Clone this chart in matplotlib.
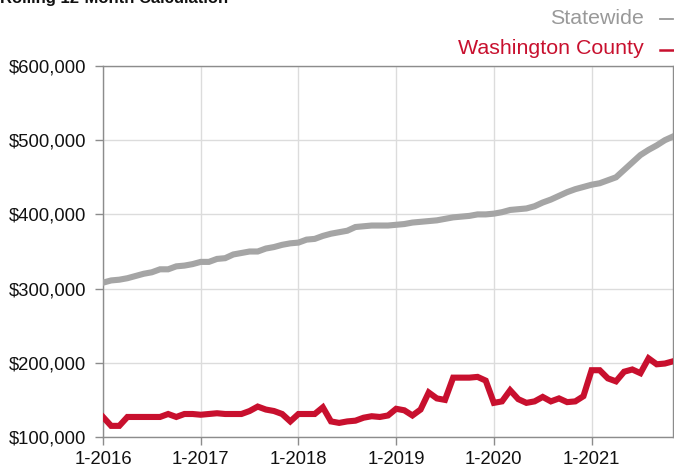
import numpy as np
import matplotlib
matplotlib.use('Agg')
import matplotlib.pyplot as plt
from matplotlib.lines import Line2D

plt.rcParams['font.family'] = ['Liberation Sans', 'DejaVu Sans']

# monthly values, 1-2016 .. 11-2021 (thousands of dollars)
statewide = [308, 311, 312, 314, 317, 320, 322, 326, 326, 330, 331, 333,
             336, 336, 340, 341, 346, 348, 350, 350, 354, 356, 359, 361,
             362, 366, 367, 371, 374, 376, 378, 383, 384, 385, 385, 385,
             386, 387, 389, 390, 391, 392, 394, 396, 397, 398, 400, 400,
             401, 403, 406, 407, 408, 411, 416, 420, 425, 430, 434, 437,
             440, 442, 446, 450, 460, 470, 480, 487, 493, 500, 505]
washington = [127, 115, 115, 127, 127, 127, 127, 127, 131, 127, 131, 131,
              130, 131, 132, 131, 131, 131, 135, 141, 137, 135, 131, 121,
              131, 131, 131, 140, 121, 119, 121, 122, 126, 128, 127, 129,
              138, 136, 129, 137, 160, 152, 150, 180, 180, 180, 181, 176,
              146, 148, 163, 151, 146, 148, 154, 148, 152, 147, 148, 155,
              190, 190, 179, 175, 188, 191, 186, 206, 198, 199, 202]
xtick_labels = ['1-2016', '1-2017', '1-2018', '1-2019', '1-2020', '1-2021']
ytick_values = [100000, 200000, 300000, 400000, 500000, 600000]

GRAY = '#a5a5a5'
RED = '#c8102e'
W, H = 674, 468

months = np.arange(len(statewide))
fig = plt.figure(figsize=(W / 100, H / 100), dpi=100)
ax = fig.add_axes([103 / W, 1 - 437 / H, 570 / W, 371 / H])

ax.plot(months, np.array(statewide) * 1000, color=GRAY, lw=4.4,
        solid_joinstyle='miter', zorder=3)
ax.plot(months, np.array(washington) * 1000, color=RED, lw=4.4,
        solid_joinstyle='miter', zorder=3)

ax.set_xlim(0, len(statewide) - 1)
ax.set_ylim(100000, 600000)
ax.set_xticks(np.arange(len(xtick_labels)) * 12)
ax.set_xticklabels(xtick_labels)
ax.set_yticks(ytick_values)
ax.set_yticklabels(['${:,.0f}'.format(v) for v in ytick_values])

ax.grid(True, color='#dcdcdc', lw=1)
ax.set_axisbelow(True)
for s in ax.spines.values():
    s.set_color('#8c8c8c')
    s.set_linewidth(1)
ax.tick_params(axis='both', labelsize=13.3, colors='#8c8c8c',
               labelcolor='#111111', length=6, width=1)
ax.tick_params(axis='x', pad=4)
ax.tick_params(axis='y', pad=6)

# title, cut off at the top of the picture
fig.text(0, 1 - 3 / H, 'Rolling 12-Month Calculation', fontsize=12,
         fontweight='bold', color='#111111', ha='left', va='baseline')

# legend: text + short dash at the right
legend_items = [('Statewide', '#999999', 18, 1.3),
                ('Washington County', RED, 49, 1.8)]
for label, col, ypx, dw in legend_items:
    fig.text(644 / W, 1 - ypx / H, label, fontsize=15.4, color=col,
             ha='right', va='center')
    fig.add_artist(Line2D([660 / W, 673 / W], [1 - (ypx + 1) / H] * 2,
                          transform=fig.transFigure, color=col, lw=dw))

fig.savefig('out.png', dpi=100)
